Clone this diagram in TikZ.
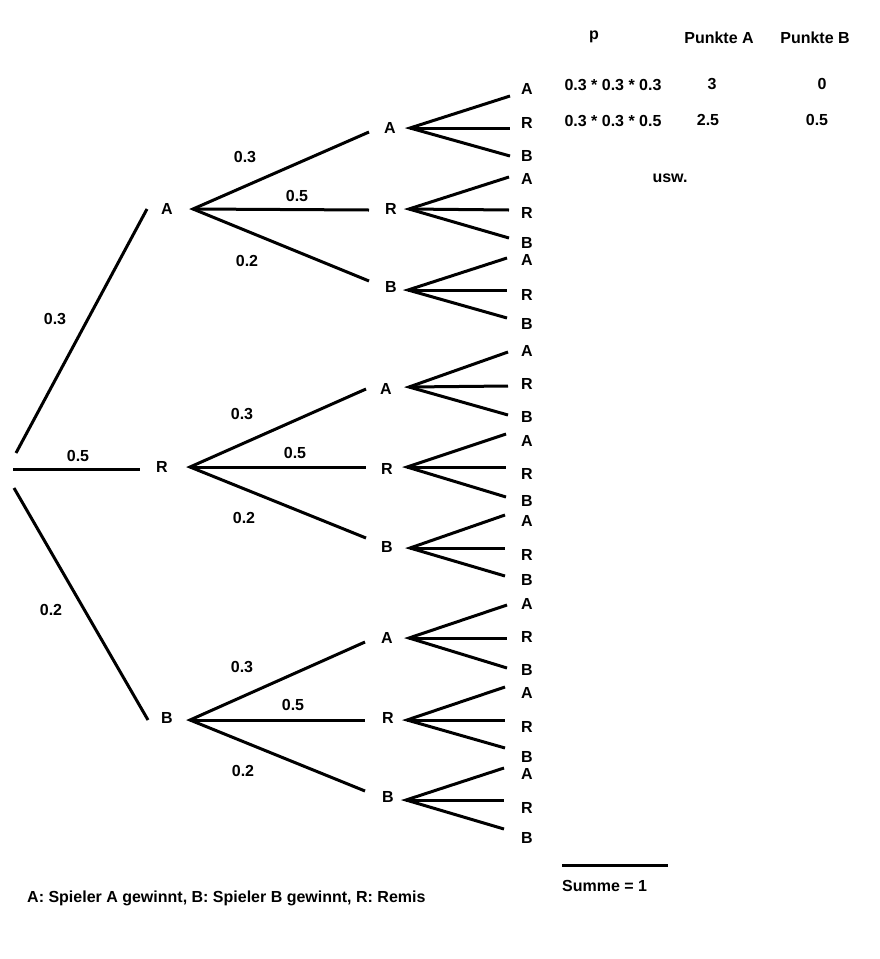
\documentclass[tikz,border=0pt]{standalone}
\usepackage{fontspec}
\setmainfont{Liberation Sans}
\begin{document}
\begin{tikzpicture}[x=1pt,y=-1pt,
  lbl/.style={font=\fontsize{16}{18}\selectfont\bfseries, inner sep=0pt},
  br/.style={line width=3pt}]
\useasboundingbox (0,0) rectangle (879,959);

% helper: fan of three lines from origin (#2,#3) to ends at x=#4, y=#5,#6,#7
\newcommand\myfan[7]{%
  \coordinate (#1o) at (#2,#3);
  \coordinate (#1t) at (#4,#5);
  \coordinate (#1m) at (#4,#6);
  \coordinate (#1b) at (#4,#7);
  \draw[br] (#1t) -- (#1o) -- (#1b);
  \draw[br] (#1o) -- (#1m);
}

% ---------- root ----------
\coordinate (r1) at (16,453);
\coordinate (r2) at (13,469);
\coordinate (r3) at (14,488);
\coordinate (e1) at (147,209);
\coordinate (e2) at (140,469);
\coordinate (e3) at (148,720);
\draw[br] (r1) -- (e1);
\draw[br] (r2) -- (e2);
\draw[br] (r3) -- (e3);
\node[lbl] (p1) at (55,319) {0.3};
\node[lbl] (p2) at (78,456) {0.5};
\node[lbl] (p3) at (51,610) {0.2};

% ---------- level 1 ----------
\node[lbl] (L1A) at (167,209) {A};
\node[lbl] (L1R) at (162,467) {R};
\node[lbl] (L1B) at (167,718) {B};

% ---------- level 1 -> 2 ----------
\myfan{ga}{193}{209}{369}{132}{210}{281}
\myfan{gr}{190}{467}{366}{389}{467}{538}
\myfan{gb}{190}{720}{365}{642}{720}{791}

\node[lbl] (qa1) at (245,157) {0.3};
\node[lbl] (qa2) at (297,196) {0.5};
\node[lbl] (qa3) at (247,261) {0.2};
\node[lbl] (qr1) at (242,414) {0.3};
\node[lbl] (qr2) at (295,453) {0.5};
\node[lbl] (qr3) at (244,518) {0.2};
\node[lbl] (qb1) at (242,667) {0.3};
\node[lbl] (qb2) at (293,705) {0.5};
\node[lbl] (qb3) at (243,771) {0.2};

% ---------- level 2 ----------
\node[lbl] (aA) at (390,128) {A};
\node[lbl] (aR) at (391,209) {R};
\node[lbl] (aB) at (391,287) {B};
\node[lbl] (rA) at (386,389) {A};
\node[lbl] (rR) at (387,469) {R};
\node[lbl] (rB) at (387,547) {B};
\node[lbl] (bA) at (387,638) {A};
\node[lbl] (bR) at (388,718) {R};
\node[lbl] (bB) at (388,797) {B};

% ---------- level 2 -> 3 ----------
\myfan{faA}{410}{128}{510}{96}{128}{156}
\myfan{faR}{409}{209}{509}{177}{210}{238}
\myfan{faB}{408}{290}{507}{258}{290}{318}
\myfan{frA}{409}{387}{508}{352}{386}{415}
\myfan{frR}{407}{467}{506}{434}{467}{497}
\myfan{frB}{410}{548}{505}{515}{548}{576}
\myfan{fbA}{409}{638}{507}{605}{638}{668}
\myfan{fbR}{407}{720}{505}{687}{720}{748}
\myfan{fbB}{406}{800}{504}{768}{800}{829}

% ---------- leaves ----------
\foreach \n/\ya/\yr/\yb in {a1/89/123/156, a2/179/213/243, a3/260/295/324,
                           r1/351/384/417, r2/441/474/501, r3/521/555/580,
                           b1/604/637/670, b2/693/727/757, b3/774/808/838}{
  \node[lbl] (leaf\n A) at (527,\ya) {A};
  \node[lbl] (leaf\n R) at (527,\yr) {R};
  \node[lbl] (leaf\n B) at (527,\yb) {B};
}

% ---------- table ----------
\node[lbl] (hp) at (594,37) {p};
\node[lbl] (hA) at (719,38) {Punkte A};
\node[lbl] (hB) at (815,38) {Punkte B};
\node[lbl] (t1p) at (613,85) {0.3 * 0.3 * 0.3};
\node[lbl] (t1a) at (712,84) {3};
\node[lbl] (t1b) at (822,84) {0};
\node[lbl] (t2p) at (613,121) {0.3 * 0.3 * 0.5};
\node[lbl] (t2a) at (708,120) {2.5};
\node[lbl] (t2b) at (817,120) {0.5};
\node[lbl] (usw) at (670,178) {usw.};

% ---------- sum ----------
\coordinate (s1) at (562,865);
\coordinate (s2) at (668,865);
\draw[br] (s1) -- (s2);
\node[lbl, anchor=west] (sum) at (562,886) {Summe = 1};

% ---------- legend ----------
\node[lbl, anchor=west] (leg) at (27,898) {A: Spieler A gewinnt, B: Spieler B gewinnt, R: Remis};
\end{tikzpicture}
\end{document}
